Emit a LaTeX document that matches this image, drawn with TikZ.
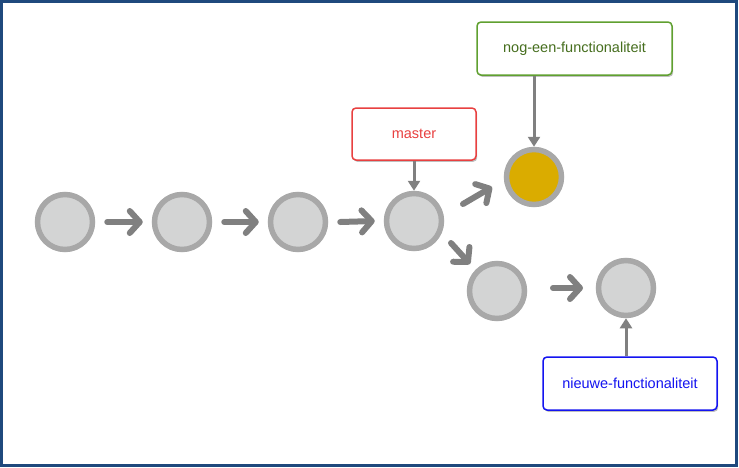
\documentclass[tikz,border=0pt]{standalone}
\usepackage{fontspec}
\setmainfont{Liberation Sans}
\usetikzlibrary{arrows.meta,shadows}
\definecolor{frameblue}{RGB}{31,73,125}
\definecolor{ringgray}{RGB}{168,168,168}
\definecolor{fillgray}{RGB}{211,212,212}
\definecolor{arrgray}{RGB}{128,128,128}
\definecolor{gold}{RGB}{218,172,0}
\definecolor{lblred}{RGB}{232,64,64}
\definecolor{lblgreen}{RGB}{96,160,48}
\definecolor{txtgreen}{RGB}{70,110,30}
\definecolor{lblblue}{RGB}{20,20,240}
\tikzset{
  commit/.style={circle,draw=ringgray,fill=fillgray,line width=5.5pt,minimum size=55pt,inner sep=0pt},
  flow/.style={draw=arrgray,line width=6pt,line cap=round,-{Straight Barb[length=10pt,width=22pt,line cap=round,round]}},
  ptr/.style={draw=arrgray,line width=3pt,-{Triangle[length=10pt,width=12pt]}},
  lbl/.style={draw,rounded corners=4pt,fill=white,line width=1.5pt,font=\fontsize{14.5}{16}\selectfont,
    drop shadow={shadow xshift=1.2pt,shadow yshift=-1.8pt,fill=black!50,opacity=0.5}}
}
\begin{document}
\begin{tikzpicture}[x=1pt,y=-1pt]
\useasboundingbox (0,0) rectangle (739,467);
\draw[frameblue,line width=3pt] (1.5,1.5) rectangle (736,465.5);
\node[commit] (c1) at (65,222) {};
\node[commit] (c2) at (182,222) {};
\node[commit] (c3) at (298,222) {};
\node[commit] (c4) at (414,221) {};
\node[commit,fill=gold] (c5) at (534,177) {};
\node[commit] (c6) at (497,291) {};
\node[commit] (c7) at (626,288) {};
\draw[flow] ([xshift=12pt]c1.east) -- ([xshift=-9pt]c2.west);
\draw[flow] ([xshift=12pt]c2.east) -- ([xshift=-9pt]c3.west);
\draw[flow] ([xshift=12pt]c3.east) -- ([xshift=-9pt]c4.west);
\draw[flow] (463,204) -- (492,187);
\draw[flow] (451,243) -- (470,264);
\draw[flow] (553,288) -- (583,288);
\node[lbl,draw=lblred,text=lblred,minimum width=124pt,minimum height=52pt] (m) at (414,134) {master};
\node[lbl,draw=lblgreen,text=txtgreen,minimum width=195pt,minimum height=53pt] (g) at (574.5,48.5) {nog-een-functionaliteit};
\node[lbl,draw=lblblue,text=lblblue,minimum width=174pt,minimum height=53pt] (b) at (630,383.5) {nieuwe-functionaliteit};
\draw[ptr] (m.south) -- (c4.north);
\draw[ptr] (g.south -| c5) -- (c5.north);
\draw[ptr] (b.north -| c7) -- (c7.south);
\end{tikzpicture}
\end{document}
